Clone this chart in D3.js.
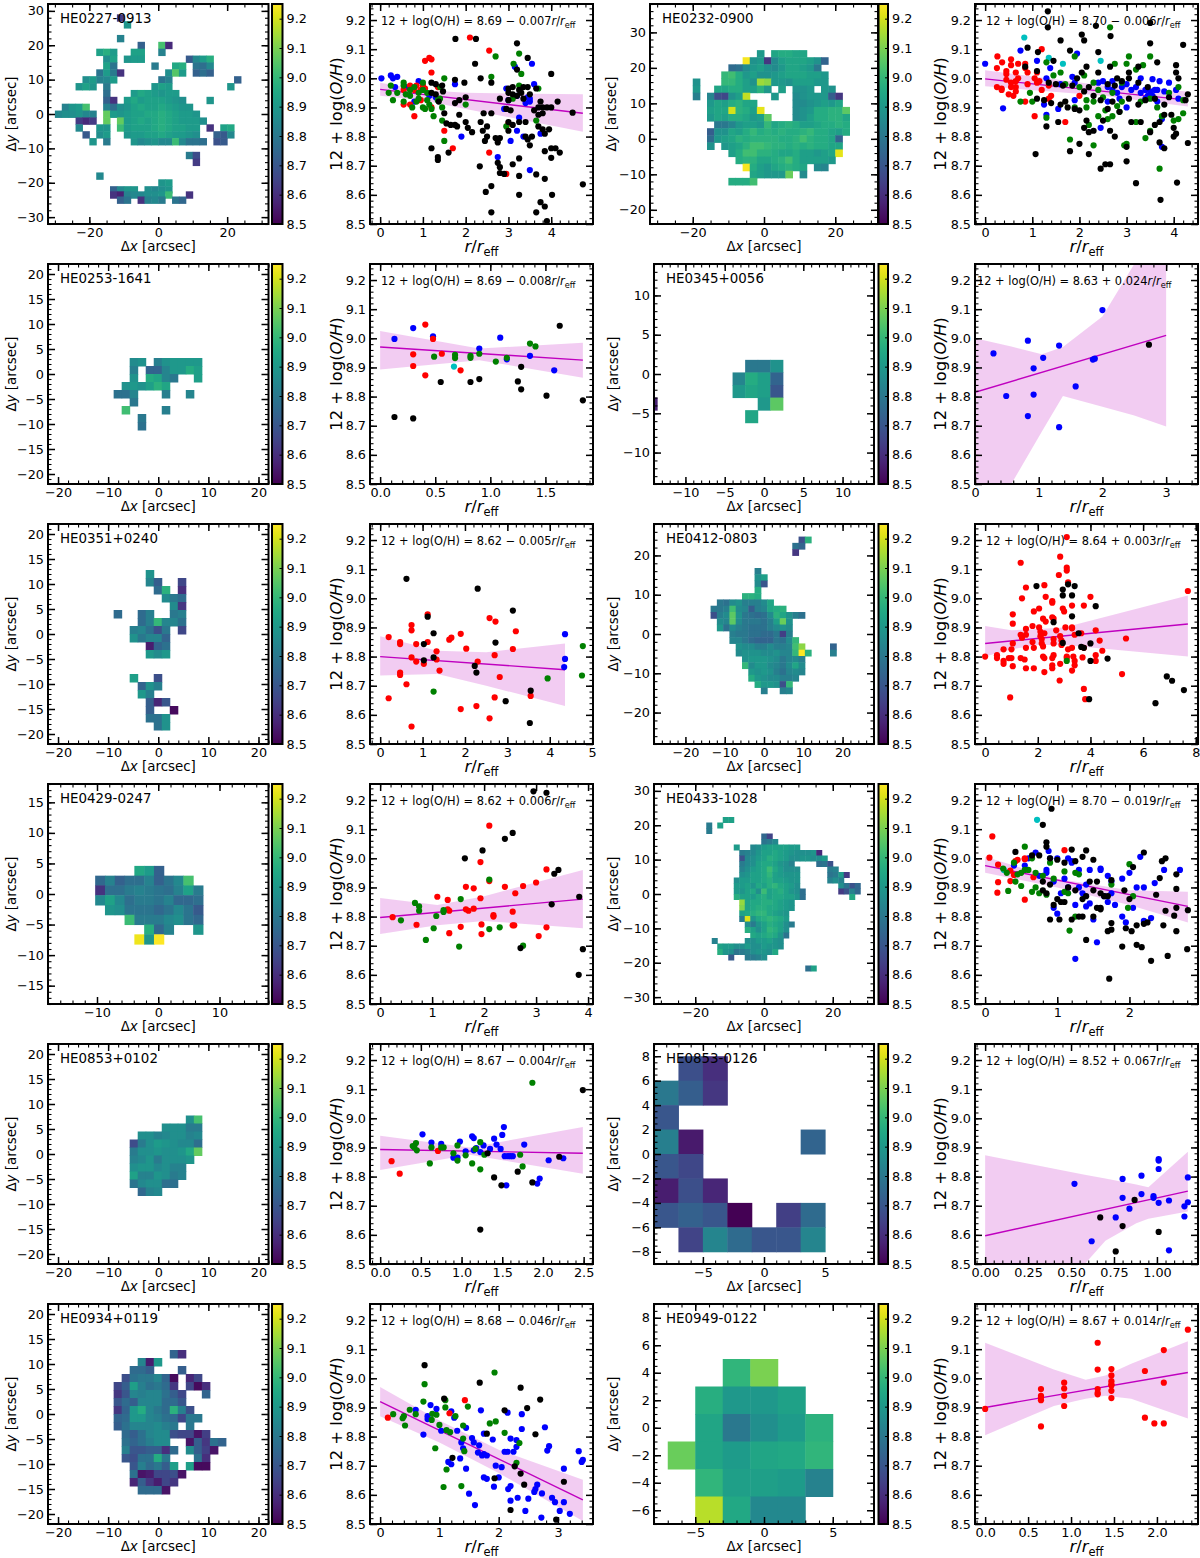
<!DOCTYPE html>
<html><head><meta charset="utf-8">
<script src="https://cdn.jsdelivr.net/npm/d3@7"></script>
<style>html,body{margin:0;padding:0;background:#fff}text{font-family:"DejaVu Sans",sans-serif;fill:#000}</style>
</head><body><svg id="c" width="1200" height="1558"></svg>
<script>
// ---- metallicity map cells: [y, x0, v, v, ...]; v = hundredths above 8 (0 = empty)
const cells0227=[[28,-11,62],[26,-9,88],[22,-11,82],[20,-5,72,0,0,102,58],[18,-17,92,96,90],[18,-7,92,92],[18,1,82],[16,-15,86,92],[16,-9,88,90,90],[16,9,70,84,90,96],[14,-15,92,78],[14,-1,80],[14,5,94,96],[14,11,78,76,84],[12,-17,78,90,80,60],[12,3,86,104,90],[12,11,72,76,72],[10,-21,86,90,82,84,90],[10,1,78,82],[10,23,72],[8,-23,88,92,88],[8,-15,80],[8,-1,88,92,90],[8,21,88],[6,-15,76],[6,-7,90,94,92,90,88,90,90],[4,-15,72,60],[4,-9,90,94,90,92,92,92,90,88,86],[4,15,88],[2,-27,82,88,90,102],[2,-15,82,76],[2,-11,86,88,92,94,92,92,94,92,90,88,88],[0,-29,84,86,86,88,84,82],[0,-15,106,90],[0,-11,88,90,92,92,94,94,96,94,92,90,90,88],[-2,-23,62,58,62],[-2,-15,106],[-2,-11,106,90,92,94,92,94,96,94,92,90,90,90,86],[-4,-23,84],[-4,-17,88,88],[-4,-11,100,90,92,92,92,94,96,94,92,92,90,90],[-4,15,60],[-4,19,92,94],[-6,-21,70],[-6,-17,86,90],[-6,-9,88,90,90,92,92,94,92,90,90,88,86],[-6,17,72,70,84],[-8,-19,88],[-8,-15,80],[-8,-7,88,84,86,88,84,84,100,84,78,78,76],[-8,17,68,70],[-12,9,80,66],[-14,11,62],[-18,-17,84],[-20,1,88,90],[-22,-13,72,84,88,88,0,86,84,86,88],[-23.5,-13,60,56,82,84,84,86,86,88,100,0,0,60],[-25,-11,72,78,0,60,82,84,80,0,78,74]];
const cells0232=[[24,-1,88],[24,3,92,94,94,92,92],[22,-5,122,86,88,60,84,90,92,92,92,90,86,72],[20,-9,74,76,84,88,90,86,84,88,92,92,90,88,78],[18,-11,98,100,94,88,90,86,86,88,90,92,92,92,90,90,88],[16,-19,86],[16,-11,98,98,94,90,86,112,110,88,88,86,90,90,90,88,88],[14,-19,88],[14,-13,92,92,94,94,90,90,96,88],[14,5,90],[14,9,86,86,88,0,88,86],[12,-19,80],[12,-15,82,66,64,86,90,116],[12,3,88],[12,9,84,86,88,88,88,70,60],[10,-15,88,92,90,94,96,92,92],[10,9,84,84,86,88,90,88,92],[8,-15,90,92,92,118,96,94,90,120],[8,9,84,86,88,94,94,96,96,104],[6,-15,88,92,90,94,94,92,88,90,104],[6,9,84,86,90,94,94,96,96,92],[4,-13,78,78,82,88,90,90,88,98,92],[4,5,94,96,94,90,90,92,94,94,96,94],[2,-15,70,86,86,92,90,94,98,94,96,94,96,94,94,96,98,94,94,92,90,94],[0,-15,74],[0,-13,88,90,92,96,94,96,96,96,96,94,94,96,100,96,94,94,92,72],[-2,-15,86],[-2,-11,88,90,92,96,100,100,98,96,96,94,96,94,96,94,94,92,92],[-4,-9,90,94,100,100,96,96,94,92,92,94,90,90,88,90,92,120],[-6,-7,94,96,96,92,92,94,96,100,94,90,90,90,90,88],[-8,-5,122,94,90,88,92,94,96,94,92],[-8,15,84,82],[-10,-3,92,90,88,88,88,106],[-10,11,84],[-12,-9,94,94,94,100]];
const cells0253=[[2.4,-4.9,84,86,0,80,86,88,88,88,88],[.8,-4.9,80,0,72,72,82,88,88,94,90],[-.8,-4.9,86,0,94,92,82,78,0,0,90],[-2.4,-6.5,86,88,86,90,96,92],[-4,-8.1,76,76,82,0,0,0,80,0,0,82],[-5.6,-4.9,78],[-7.2,-6.5,100],[-7.2,1.5,80],[-8.8,-3.3,78],[-10.4,-3.3,76]];
const cells0345=[[1,-1.6,78,78,86],[-.6,-3.2,82,94,90,72],[-2.2,-3.2,88,92,90,68],[-3.8,0,88,104],[-5.4,-1.6,92],[-3.8,-14.4,55]];
const cells0351=[[12,-1.7,88],[10.4,-1.7,84,72],[10.4,4.7,66],[8.8,-.1,76,98],[8.8,4.7,60],[7.2,1.5,86,80,76],[5.6,3.1,86,62],[4,-8.1,76],[4,-3.3,76,82],[4,3.1,80,82],[2.4,-3.3,76,82,100,84,84,78],[.8,-4.9,82,84,78,68,80],[.8,4.7,66],[-.8,-4.9,88,80,84,84,74],[-2.4,-1.7,56,74,78],[-4,-1.7,90,86,90],[-8.8,-4.9,92],[-8.8,-.1,68],[-10.4,-3.3,74,88,82],[-12,-3.3,90,82],[-13.6,-1.7,72,58,70],[-15.2,-1.7,72],[-15.2,3.1,52],[-16.8,-1.7,78,78,88],[-18.4,-.1,78,88]];
const cells0412=[[15,6,66,96],[14,5,76,72],[13,5,60],[10,-1,80],[9,-1,86,90],[8,-1,84,68],[7,-1,94],[6,-3,96,96,94],[5,-7,78,76,84,86,80,80,80,84,92],[4,-8,78,78,80,100,84,82,70,80,82,92,94,96],[3,-8,66,80,84,104,86,78,76,74,76,84,96,92,86,80,76],[2,-7,84,82,104,84,78,78,78,76,80,90,106,86],[1,-7,88,76,84,80,78,76,76,76,80,84,86,84],[0,-5,80,78,78,76,76,74,74,78,62,80],[-1,-5,82,82,78,74,72,72,72,78,76,84,98],[-2,-4,86,84,84,80,80,84,80,80,82,100,110],[-2,11,72],[-3,-4,84,86,86,86,84,84,86,82,82,98,124,96],[-3,11,80],[-4,-3,86,88,88,88,86,84,78,82,84,80],[-5,-3,98,84,88,88,84,82,78,84,92,84],[-6,-2,88,86,88,86,80,76,82,84,82],[-7,-2,94,88,86,84,84,80,80,82],[-8,-1,94,88,88,86,66,98],[-9,0,80],[-9,3,80,82]];
const cells0429=[[3.8,-3.1,94,90,72],[2.2,-9.5,74,82,72,76,76,82,72,78,84,102],[.6,-9.5,60,76,76,80,82,80,78,76,82,92,80],[-1,-9.5,84,92,84,76,80,80,78,82,74,74,76],[-2.6,-7.9,88,86,78,78,78,74,78,84,78,70],[-4.2,-4.7,100,80,80,80,84,86,78,74],[-5.8,-1.5,96,74,82],[-5.8,6.5,88],[-7.4,-3.1,122,88,124]];
const cells0433=[[13,-7,90,90],[12,-8,90],[12,-10,78],[11,-10,78],[10,0,72,62],[9,0,76,78,82],[8,-5,88],[8,-2,82,84,88,90,90,90,90,88,88],[7,-4,78,80,82,86,90,90,92,90,88,86,84,84,84,86,56],[6,-4,66,82,84,88,90,94,92,90,88,84,84,86,86,84,84,88],[5,-4,78,82,84,90,92,92,90,86,84,80],[5,10,74,76,66],[4,-4,80,84,88,90,92,98,92,88,84,84,84],[4,12,78,80],[3,-4,84,86,90,90,92,96,90,88,86,86,86],[3,12,76,78,88,60],[2,-5,84,88,88,90,90,92,94,90,90,88,86,86],[2,12,80,84,80],[1,-5,88,88,90,86,92,90,94,96,92,90,88,84],[1,14,84,76,66,72],[0,-5,88,86,90,92,84,98,90,92,94,90,86,84,74],[0,14,60,66,80,72],[-1,-5,94,90,90,88,92,94,90,92,92,90,90,86,74],[-1,16,92],[-2,-4,110,90,92,92,94,94,92,90,88,86],[-3,-4,108,90,92,94,94,92,92,90,88,86],[-4,-4,90,92,94,96,96,92,90,88,86],[-5,-4,78,118,86,92,94,96,94,92,88],[-6,-3,84,78,86,90,94,92,90,84,78],[-7,-3,94,90,84,90,96,94,90,84],[-8,-2,92,90,92,94,92,86,76],[-9,-9,80],[-9,-3,84,84,88,88,90,86,84],[-10,-8,90,88,88,84,84,88,84,84,88,86,86,84],[-11,-8,94,86,84,76,78,80,84,86,86,84,92],[-12,-6,68],[-12,-3,78,78,80,84],[-14,8,74,90]];
const cells0853p=[[6.9,6.3,84,100],[5.3,1.5,84,84,84,78,78],[3.7,-3.3,84,84,80,82,84,84,80,82],[2.1,-4.9,64,78,84,88,86,84,82,82,74],[.5,-4.9,78,84,84,86,84,84,86,92,104],[-1.1,-4.9,80,82,86,78,84,84,84,86],[-2.7,-4.9,84,86,86,82,84,80,80],[-4.3,-4.9,90,80,80,86,84,78,80],[-5.9,-4.9,76,82,84,84,74,74],[-7.5,-3.3,72,80,82]];
const cells0853m=[[7,-6,68,60],[5,-8,80,72,62],[3,-8,70],[1,-8,82,55],[1,4,74],[-1,-8,70,66],[-3,-8,56,68,58],[-5,-8,70,73,70,50],[-5,2,64,76],[-7,-6,65,84,76,70,70,84]];
const cells0934=[[12,3.1,74,60],[10.4,-3.3,84,56,90],[8.8,-4.9,76,76,72],[8.8,4.7,72],[7.2,-6.5,68,78,80,80,84,74,52],[7.2,6.3,58,66],[5.6,-8.1,66,72,92,82,78,80,76,62],[5.6,6.3,66,52,60],[4,-8.1,62,70,84,82,84,84,78,72,66],[4,9.5,74],[2.4,-8.1,70,76,72,84,84,84,76,76,70],[.8,-8.1,62,74,90,96,84,80,76,98,82,68],[-.8,-8.1,74,76,90,90,84,82,78,76,66,80,80],[-2.4,-8.1,72,78,84,84,84,86,82,80],[-2.4,6.3,80],[-4,-6.5,76,72,78,84,86,86,68,66,66,54,64],[-5.6,-6.5,78,74,78,82,86,86],[-5.6,6.3,54,72,62,78,74],[-7.2,-6.5,82,70,70,72,72,60,76],[-7.2,6.3,86,72,64,54],[-8.8,-6.5,70,68,78,78,96,80],[-8.8,7.9,78,60],[-10.4,-4.9,70,82,76,80,72,92],[-10.4,6.3,92,52,52],[-12,-4.9,78,54,56,66,66,68,54],[-13.6,-4.9,58,72,62,56,66,62],[-15.2,-3.3,76,76,76,54]];
const cells0949=[[4,-2,99,110],[2,-4,97,90,90,93],[0,-4,94,80,87,91,98],[-2,-6,108,94,91,94,95,99],[-4,-4,99,92,92,91,83],[-6,-4,117,95,85,85]];

// ---- abundance profile points, flat r,value pairs
const p0227_blue=[.03,9,.25,9.01,.3,9,.4,9.005,.35,8.97,.6,8.97,.8,8.92,.9,8.99,1.15,8.94,1.3,8.935,1.75,8.98,1.9,8.8,2.75,8.73,3.15,9.04,3.55,9.05,2.95,8.965,2.9,8.895,3.2,8.94,3.45,8.935,3.5,8.93,3.4,8.915,3.6,8.98,3.25,8.865,3.05,8.785,3,8.925,3.35,8.8,3.2,8.82,3.5,8.685,3.75,8.81,3.5,8.92];
const p0227_red=[2.1,9.14,2.55,9.095,1.15,9.07,1.2,9.065,1.05,9.06,1.2,9.02,.55,8.96,.7,8.975,.8,8.96,.85,8.975,.95,8.96,1,8.975,1.05,8.965,1,8.97,.7,8.91,.55,8.91,.8,8.87,.95,8.925,1.2,8.9,1.35,8.97,1.5,8.82,1.7,8.76,2.55,8.745,3,8.845,2.95,8.672];
const p0227_green=[.25,8.975,.2,8.95,.3,8.925,.4,8.95,.55,8.985,.55,8.975,.6,8.945,.7,8.96,.8,8.97,.9,8.95,1,8.985,1,8.96,1.1,8.95,.55,8.92,.75,8.9,.9,8.93,1,8.9,1.05,8.895,1.1,8.925,1.15,8.91,1.25,8.87,1.2,8.895,1.4,8.93,1.35,8.925,1.45,8.9,1.5,9,1.4,8.97,1.45,8.855,1.5,8.785,2.7,9.075,3.25,9.085,3.12,9.05,2.6,9.005,3.3,9.015,3.25,8.975,2.95,8.835,3.65,8.855,2,8.91,.7,8.94,.85,8.92,3.7,8.965,3.1,8.93];
const p0227_black=[1.76,9.135,2.24,9.135,3.2,9.12,3.45,9.07,2.22,9.05,3.2,9.03,4,9.015,2.35,9,1.2,8.985,1.3,8.98,1.45,8.975,1.75,8.995,1.97,8.985,2.6,8.985,3,8.965,3.1,8.97,3.25,8.96,3.35,8.97,3.45,8.97,3.65,8.965,3,8.95,3.1,8.945,3.2,8.94,3.3,8.95,3.5,8.945,1.2,8.95,1.3,8.945,1.47,8.955,1.75,8.915,1.85,8.925,2,8.935,2.8,8.93,3,8.925,3.35,8.93,1.37,8.92,1.5,8.88,1.85,8.875,2.42,8.88,2.6,8.88,2.95,8.895,3.05,8.89,3.6,8.89,3.7,8.9,3.8,8.9,3.9,8.9,4,8.9,4.15,8.92,3.75,8.92,3.8,8.88,3.7,8.875,4.5,8.882,1.55,8.845,1.65,8.84,1.75,8.84,1.8,8.835,2,8.85,2.35,8.85,2.05,8.83,2.15,8.815,2.4,8.82,2.5,8.835,2.5,8.8,2.45,8.785,2.7,8.795,2.75,8.78,2.8,8.795,3,8.85,3.1,8.84,3,8.82,3.25,8.85,3.4,8.8,3.4,8.85,3.45,8.79,3.55,8.8,3.7,8.835,3.8,8.825,3.95,8.825,3.85,8.81,3.5,8.77,1.35,8.73,1.35,8.72,1.2,8.76,1.6,8.745,3.85,8.75,4,8.76,4.1,8.76,4.2,8.745,4,8.727,2.33,8.698,2.75,8.71,2.8,8.695,2.8,8.675,2.9,8.672,3.1,8.705,3.25,8.725,3.25,8.665,3.65,8.67,3.85,8.655,3.25,8.6,4.02,8.6,2.6,8.63,2.47,8.61,2.6,8.54,3.65,8.54,3.75,8.575,3.85,8.56,3.9,8.51,4.74,8.636];
const p0232_cyan=[.83,9.14,1.35,9.07,1.65,9.05,2.45,9.06];
const p0232_blue=[0,9.05,.38,8.897,.75,9.095,1.1,9.06,1.38,9.035,1.25,8.91,1.3,9,1.55,8.895,1.9,8.925,1.95,9.085,1.85,9.005,1.9,8.985,2.45,8.83,2.4,8.985,2.5,8.99,2.6,8.97,2.7,8.96,2.8,8.95,2.9,8.97,3,8.98,3.1,8.96,3.2,8.97,3.3,8.95,3.4,8.96,3.5,8.955,3.55,8.94,3.6,8.96,3.7,8.99,3.55,8.997,3.65,8.96,3.8,8.955,3.9,8.985,3.65,8.92,3.3,9,3,8.9,2.7,8.99,2.6,8.92,3.75,8.86,3.75,8.765,4.05,8.96,4.1,8.93,3.45,8.94,3.4,8.93,2.85,8.93,1.3,8.875,1.6,8.98];
const p0232_red=[.26,9.075,.55,9.065,.36,9.055,.55,9.045,.7,9.05,.85,9.05,.25,9.035,.45,9.025,.45,9.015,.65,9.02,.85,9.035,.9,9.02,1.1,9.02,1.2,9.1,1.05,9,1.15,8.99,.45,8.995,.65,8.99,.9,8.98,.25,8.97,.35,8.965,.55,8.97,.65,8.97,.5,8.945,.6,8.94,.35,8.96,.85,8.92,1.1,8.985,1.05,8.87,1.2,8.96,1.35,8.975,1.4,8.94,1.35,8.93,1.7,8.85,2,8.94,.65,8.955,.55,8.985,.7,9];
const p0232_green=[1.3,9.055,1.6,9.02,1.9,9.075,2.1,9.01,2.65,9.175,2.75,9.05,3.05,9.075,3,9.05,3.2,9.03,3.35,9.045,3.5,9.075,2.9,8.985,1.45,9.01,1.7,8.98,1.3,8.865,1,8.92,.75,8.92,.95,8.95,1.8,8.79,2.2,8.84,2.15,8.925,2.3,8.77,2.4,8.87,2.3,8.92,2.5,8.935,2.6,8.86,2.7,8.87,2.8,8.905,2.85,8.885,3,8.775,2.3,8.985,2.4,8.96,2.7,8.95,2.9,8.92,2.95,8.77,3.2,8.85,3.3,8.92,3.5,8.93,3.4,8.795,3.5,8.82,3.7,8.69,3.75,8.87,4,8.855,4.1,8.86,3.9,8.95,4.1,8.97,4.2,8.925,4.2,8.88,2,8.97,2.15,8.9,1.9,8.9,2.55,8.89,3.65,8.9];
const p0232_black=[1.33,9.23,1.33,9.175,2.05,9.15,2.1,9.13,2.66,9.145,2.35,9.18,.9,9.105,1.6,9.13,1.8,9.095,1.12,9.09,2.4,9.09,1.45,9.06,3.5,9.12,4.2,9.115,3.5,9.19,.85,9.04,2.15,9.04,2.65,9.04,3.25,9.04,4.05,9.045,3.65,9.055,1.1,9.025,2.05,9.02,2.4,9.02,3.05,9.02,4.05,9.02,1.95,9,2.8,9,2.9,8.99,3.05,9,1.35,8.985,1.5,8.98,1.65,8.975,1.85,8.975,2.2,8.97,2.6,8.98,2.75,8.975,3.25,8.985,3.45,8.97,3.6,8.93,3.8,8.91,3.9,8.935,4.1,9,4.3,8.945,4.25,8.925,1.1,8.93,1.25,8.925,1.4,8.915,1.6,8.91,1.7,8.92,1.75,8.9,1.9,8.895,2,8.89,2.1,8.955,2.3,8.94,2.45,8.925,2.6,8.895,2.7,8.92,2.85,8.885,3.05,8.93,3.1,8.85,3.25,8.91,3.4,8.925,3.7,8.85,3.8,8.875,4,8.83,3.95,8.875,1.3,8.835,1.55,8.85,2.15,8.855,2.1,8.83,2.2,8.815,2.3,8.82,2.5,8.855,2.65,8.82,2.75,8.8,3,8.765,3.3,8.85,3.5,8.815,3.6,8.84,3.7,8.78,3.8,8.76,4,8.8,4.05,8.81,4.3,8.778,1.07,8.74,1.8,8.75,2,8.775,2.2,8.74,2.45,8.69,2.55,8.705,2.65,8.705,3,8.715,3.2,8.64,3.72,8.583,4.07,8.642];
const p0253_cyan=[.67,8.903];
const p0253_blue=[.13,8.998,.3,9.035,.48,9.007,.9,8.965,1.09,9.002,1.15,8.928,1.36,8.94,1.58,8.89];
const p0253_red=[.3,8.945,.3,8.905,.41,9.047,.41,8.873,.48,8.998,.56,8.947,.73,8.89];
const p0253_green=[.49,8.937,.68,8.943,.68,8.932,.82,8.94,.82,8.933,.9,8.947,1.05,8.92,1.15,8.933,1.36,8.982,1.41,8.972];
const p0253_black=[.13,8.73,.3,8.725,.55,8.85,.82,8.85,.9,8.86,1.25,8.852,1.28,8.902,1.28,8.825,1.51,8.803,1.63,9.043,1.84,8.787];
const p0345_blue=[.29,8.948,.49,8.802,.83,8.992,.83,8.733,.92,8.897,.92,8.807,1.07,8.933,1.32,8.975,1.32,8.695,1.58,8.835,1.85,8.927,1.88,8.93,2,9.097];
const p0345_black=[2.73,8.978];
const p0351_blue=[4.36,8.877,4.36,8.792,4.34,8.764];
const p0351_red=[.2,8.867,.47,8.85,.47,8.843,.74,8.908,.74,8.89,.85,8.843,.74,8.797,.85,8.783,1.03,8.775,1.12,8.945,1.12,8.85,1.33,8.818,1.33,8.79,1.4,8.752,1.63,8.858,1.68,8.865,1.9,8.878,2.03,8.827,2.3,8.783,2.58,8.932,2.72,8.92,2.7,8.805,2.82,8.73,3.13,8.826,3.2,8.887,.47,8.745,.47,8.737,.2,8.657,.62,8.705,.74,8.56,1.9,8.62,2.27,8.63,2.58,8.588,2.7,8.66,3.55,8.665];
const p0351_green=[1.26,8.68,3.95,8.725,4.78,8.836,4.76,8.735];
const p0351_black=[.62,9.067,1.12,8.937,1.26,8.88,1.03,8.843,1.03,8.787,1.26,8.797,2.23,8.768,2.27,8.745,2.3,9.033,2.72,8.848,3.13,8.958,2.96,8.647,3.53,8.572,3.55,8.683];
const p0412_red=[0,8.8,.45,8.805,.45,8.795,.7,8.825,.7,8.785,.7,8.775,1,8.795,.9,8.795,1,8.825,1.05,8.845,1.05,8.945,1.05,8.913,1.05,8.767,.95,8.66,1.35,9.122,1.4,9,1.35,8.875,1.4,8.865,1.35,8.795,1.5,8.79,1.55,9.037,1.55,8.895,1.55,8.875,1.55,8.83,1.55,8.76,1.85,8.955,1.8,8.905,1.8,8.85,1.85,8.83,1.85,8.76,2.05,8.965,2.05,8.9,2.1,8.885,2.1,8.87,2.15,8.86,2.15,8.845,2.2,8.835,2.3,9.005,2.25,9.045,2.2,8.93,2.3,8.92,2.2,8.8,2.25,8.795,2.25,8.747,2.55,8.99,2.55,8.985,2.55,8.935,2.6,8.93,2.6,8.86,2.6,8.845,2.6,8.805,2.55,8.795,2.55,8.76,2.55,8.77,2.8,9.08,2.85,9.143,3.1,9.21,3.1,9.105,3.1,9.095,2.85,8.87,2.9,8.855,2.9,8.84,2.85,8.775,3.1,8.8,3.1,8.795,3.15,8.825,2.95,8.965,3,8.955,3.05,8.9,3.15,9.055,3.3,8.9,3.3,8.897,3.35,8.8,3.3,8.83,3.3,8.752,2.83,8.718,3.4,8.875,3.4,8.785,3.4,8.77,3.75,8.975,3.75,8.83,3.65,8.88,3.7,8.797,3.75,8.689,3.8,8.654,4,9.005,4.2,8.89,4.2,8.805,4.2,8.785,4.35,8.855,4.45,8.82,5.2,8.74,5.35,8.862,7.7,9.025,3.3,8.975,2.25,8.88,2.7,8.89];
const p0412_green=[3.1,8.785];
const p0412_black=[1.95,9.042,2.95,9.03,2.95,9.01,3.15,9.048,3.4,9.042,3.3,9.01,3.3,8.938,4.2,8.973,2.6,8.918,3.55,8.88,2.95,8.847,3.65,8.833,3.75,8.83,4,8.845,4,8.785,4.65,8.793,3.95,8.654,6.47,8.64,6.9,8.732,7.1,8.717,7.55,8.685];
const p0429_red=[.24,8.798,.7,8.772,1.1,8.868,1.3,8.857,1.3,8.825,1.33,8.82,1.33,8.743,1.55,8.765,1.65,8.902,1.65,8.825,1.7,8.82,1.8,8.897,1.8,8.827,1.93,8.987,1.93,8.863,1.95,8.773,1.95,8.74,2.1,9.112,2.1,8.922,2.18,8.805,2.18,8.8,2.4,8.902,2.55,8.77,2.55,8.817,2.58,8.77,2.6,8.88,2.75,8.905,3,8.917,3.05,8.733,3.2,8.962,3.2,8.763];
const p0429_green=[.4,8.787,.67,8.847,.75,8.835,.75,8.82,.88,8.72,1.03,8.76,1.08,8.802,1.22,8.822,1.22,8.816,1.52,8.697,1.55,8.86,2.1,8.927,2.1,8.757,2.3,8.763,2.75,8.7];
const p0429_black=[1.63,9,1.97,9.027,2.4,9.067,2.55,9.087,2.95,9.23,3.2,9.225,3.35,8.947,3.43,8.96,3.3,8.842,3.83,8.868,2.7,8.692,3.9,8.688,3.82,8.6];
const p0433_cyan=[.72,9.132,.26,8.96];
const p0433_blue=[.4,8.975,.55,8.975,.6,9,.7,9.02,.88,9.025,.9,9,.75,8.94,.85,8.96,.95,8.92,1,9,1.05,8.88,1.1,8.93,1.15,9,1.2,8.99,1.15,8.9,1.2,8.985,1.3,8.96,1.3,8.9,1.35,8.88,1.4,8.91,1.45,8.96,1.5,8.79,1.25,8.84,1.4,8.835,1.45,8.845,1.6,8.965,1.6,8.96,1.65,8.87,1.75,8.92,1.75,8.88,1.7,8.85,1.8,8.84,1.9,8.93,1.9,8.8,1.95,8.78,2,8.95,2.05,8.83,2.2,8.9,2.15,9.005,2.1,8.9,2.2,8.785,2.3,8.795,2.35,8.915,2.48,8.96,2.7,8.96,1,8.81,1.55,8.712,1.25,8.655,.95,8.83,.85,8.95,1.7,8.94];
const p0433_red=[.06,9.002,.1,9.075,.18,8.978,.18,8.918,.17,8.882,.35,8.958,.35,8.922,.4,8.943,.42,8.99,.45,8.995,.55,9,.55,8.997,.55,8.858,.67,8.935,1.1,9.028];
const p0433_green=[.25,8.965,.3,8.95,.4,8.985,.42,8.92,.32,8.888,.45,8.945,.5,8.95,.5,8.905,.55,9.04,.55,8.96,.6,8.96,.65,9,.65,8.885,.7,8.95,.7,8.9,.75,8.88,.8,8.94,.85,8.875,.9,8.985,.95,8.93,1.1,8.885,1.15,8.88,1.1,8.955,1.25,8.95,1.3,8.945,1.25,8.8,1.17,8.752,1.75,8.91,1.98,8.83,2,8.98,2.05,8.87];
const p0433_black=[.92,9.17,.8,9.115,.65,9.01,.75,9.01,.85,9.055,.85,9.04,.42,9.022,.9,9,1,8.995,1.1,8.985,1.15,8.9,1.2,9.03,1.25,8.99,1.35,9.005,1.4,9.027,1.5,8.995,.8,8.92,.8,8.89,.85,8.88,.9,8.91,.95,8.84,1,8.86,1.05,8.85,1.1,8.85,1.25,8.89,1.35,8.86,1.4,8.87,1.45,8.92,1.5,8.89,1.55,8.92,1.6,8.88,1.65,8.87,1.7,8.87,1.75,8.925,1.6,8.83,1.55,8.83,1.6,8.825,.9,8.79,1.03,8.79,1.2,8.79,1.3,8.8,1.35,8.8,1.5,8.8,1.7,8.75,1.75,8.755,1.75,8.778,1.95,8.76,2.03,8.75,2.1,8.77,2.2,8.775,2.25,8.78,2,8.86,1.93,8.89,1.4,8.72,1.9,8.697,2.1,8.703,2.17,8.695,2.3,8.648,2.53,8.665,1.72,8.587,2.37,8.875,2.45,8.99,2.5,9,2.42,8.932,2.5,8.82,2.47,8.77,2.62,8.803,2.65,8.83,2.65,8.75,2.65,8.945,2.65,8.895,2.81,8.822,2.8,8.688,2.05,8.97,2.2,9.02];
const p0853p_blue=[.52,8.945,.63,8.917,.75,8.912,.9,8.865,.95,8.865,.98,8.92,1.05,8.887,1.13,8.938,1.15,8.932,1.18,8.898,1.15,8.89,1.23,8.884,1.27,8.907,1.35,8.895,1.4,8.93,1.43,8.91,1.48,8.895,1.5,8.943,1.52,8.97,1.53,8.87,1.57,8.87,1.6,8.87,1.63,8.87,1.77,8.91,1.55,8.77,1.93,8.776,1.96,8.793,2.07,8.856,2.25,8.863];
const p0853p_red=[.14,8.853,.24,8.81,.71,8.888];
const p0853p_green=[.4,8.905,.42,8.9,.44,8.915,.45,8.89,.61,8.845,.63,8.9,.75,8.9,.78,8.9,.9,8.88,.95,8.907,.95,8.855,1.05,8.873,1.13,8.845,1.17,8.895,1.23,8.918,1.23,8.825,1.28,8.875,1.72,8.875,1.75,8.835,1.87,9.122];
const p0853p_black=[1.23,8.618,1.32,8.88,1.4,8.797,1.49,8.77,1.69,8.817,1.87,8.78,2.2,8.868,2.49,9.097];
const p0853m_blue=[.52,8.775,.62,8.578,.76,8.66,.8,8.792,.8,8.727,.84,8.69,.91,8.803,.91,8.74,.98,8.733,.98,8.727,1.01,8.86,1.01,8.855,1.01,8.826,1.01,8.71,1.07,8.718,1.07,8.547,1.16,8.698,1.16,8.663,1.18,8.797,1.18,8.712];
const p0853m_black=[.67,8.66,.76,8.543,.8,8.63,.87,8.72,1.01,8.61];
const p0934_blue=[.6,8.892,.8,8.87,.8,8.86,.85,8.908,.95,8.895,.73,8.807,1.03,8.82,1.2,8.887,1.25,8.865,1.3,8.82,1.15,8.713,1.2,8.705,1.37,8.78,1.35,8.725,1.4,8.76,1.45,8.83,1.45,8.69,1.5,8.604,1.55,8.795,1.58,8.78,1.6,8.565,1.65,8.745,1.67,8.77,1.7,8.89,1.72,8.735,1.75,8.81,1.75,8.74,1.75,8.66,1.8,8.655,1.8,8.735,1.9,8.79,1.92,8.628,1.95,8.7,2,8.66,2.05,8.695,2.1,8.748,2.15,8.748,2.2,8.793,2.15,8.882,2.25,8.748,2.16,8.62,2.2,8.63,2.2,8.58,2.3,8.788,2.3,8.765,2.32,8.59,2.39,8.877,2.39,8.826,2.45,8.545,2.5,8.587,2.62,8.62,2.65,8.635,2.73,8.605,2.78,8.832,2.82,8.752,2.85,8.767,2.72,8.522,2.6,8.61,2.9,8.59,2.95,8.575,3.03,8.545,3.1,8.69,3.1,8.575,3.2,8.535,3.35,8.75,3.4,8.713,3.42,8.72];
const p0934_red=[.13,8.865,1.17,8.88,1.43,8.925];
const p0934_green=[.22,8.877,.38,8.863,.4,8.87,.42,8.838,.5,8.892,.6,8.877,.73,8.92,.75,8.98,.87,8.857,.88,8.878,.95,8.875,.93,8.76,1,8.84,1.1,8.9,1.1,8.925,1.12,8.822,1.18,8.815,1.12,8.687,1.07,8.627,1.27,8.87,1.37,8.63,1.4,8.838,1.4,8.793,1.42,8.75,1.48,8.903,1.85,8.845,1.93,9.02,1.95,8.852,2.1,8.813,2.3,8.71,2.35,8.778];
const p0934_black=[.75,9.045,1.08,8.93,1.22,8.727,1.68,8.985,1.8,8.81,1.93,8.657,2.1,8.89,2.2,8.548,2.27,8.698,2.37,8.968,2.37,8.673,2.43,8.635,2.48,8.898,2.62,8.808,2.7,8.927,2.97,8.515,3.1,8.645];
const p0949_red=[0,8.895,.65,8.963,.65,8.94,.65,8.935,.65,8.925,.65,8.835,.92,8.985,.92,8.965,.92,8.94,.92,8.905,1.31,9.122,1.31,9.03,1.31,8.963,1.31,8.95,1.31,8.945,1.47,9.032,1.47,9.01,1.47,8.99,1.47,8.98,1.47,8.975,1.47,8.957,1.47,8.932,1.86,9.025,1.86,8.865,1.97,8.845,2.08,9.097,2.08,8.985,2.08,8.845,2.36,9.167];

// ---- fit lines and confidence bands
const fitR=[[0,4.74],[0,4.3],[0,1.84],[0,3],[0,4.36],[0,7.7],[0,3.9],[0,2.81],[0,2.49],[0,1.18],[0,3.42],[0,2.36]];
const fitOH=[[8.962,8.88],[8.998,8.925],[8.97,8.925],[8.815,9.01],[8.8,8.755],[8.845,8.912],[8.797,8.86],[8.975,8.835],[8.893,8.88],[8.597,8.75],[8.92,8.583],[8.9,9.02]];
const bandR=[[0,1,2,4.74],[0,2.5,4.3],[0,.9,1.84],[0,.57,1.05,1.38,2,2.5,3],[0,1.35,2.5,4.36],[0,1,2,3,7.7],[0,1.1,2,3.9],[0,1,1.5,2,2.81],[0,1.1,2.49],[0,.58,.7,.88,.95,1.18],[0,1,2,3.42],[0,.8,1.17,1.4,1.7,2.36]];
const bandLo=[[8.94,8.925,8.895,8.817],[8.973,8.94,8.903],[8.893,8.925,8.865],[8.25,8.5,8.68,8.802,8.765,8.735,8.697],[8.735,8.74,8.7,8.63],[8.8,8.825,8.84,8.84,8.8],[8.74,8.77,8.785,8.76],[8.95,8.9,8.87,8.84,8.78],[8.823,8.875,8.81],[8.32,8.5,8.58,8.64,8.655,8.68],[8.87,8.78,8.675,8.51],[8.805,8.905,8.93,8.94,8.93,8.862]];
const bandHi=[[8.985,8.96,8.95,8.945],[9.028,8.975,8.955],[9.025,8.965,8.985],[9,8.972,8.945,8.97,9.075,9.255,9.6],[8.87,8.82,8.815,8.845],[8.905,8.89,8.895,8.9,9.01],[8.864,8.84,8.87,8.96],[9.005,8.93,8.91,8.89,8.885],[8.94,8.9,8.97],[8.873,8.806,8.793,8.773,8.763,8.885],[8.97,8.855,8.755,8.652],[9.122,9.03,8.995,9.01,9.05,9.127]];

// ---- labels and axis settings
const names=["HE0227-0913","HE0232-0900","HE0253-1641","HE0345+0056","HE0351+0240","HE0412-0803","HE0429-0247","HE0433-1028","HE0853+0102","HE0853-0126","HE0934+0119","HE0949-0122"];
const intercepts=["8.69","8.70","8.69","8.63","8.62","8.64","8.62","8.70","8.67","8.52","8.68","8.67"];
const slopes=["− 0.007","− 0.006","− 0.008","+ 0.024","− 0.005","+ 0.003","+ 0.006","− 0.019","− 0.004","+ 0.067","− 0.046","+ 0.014"];
const mapCells=[cells0227,cells0232,cells0253,cells0345,cells0351,cells0412,cells0429,cells0433,cells0853p,cells0853m,cells0934,cells0949];
const mapShift=[1,2,2,2,0,2,1,3,3,0,0,0];
const mapX=[[-32,32],[-32,32],[-22,22],[-14,14],[-22,22],[-28,28],[-18,18],[-32,32],[-22,22],[-9,9],[-22,22],[-8,8]];
const mapY=[[-32,32],[-24,38],[-22,22],[-14,14],[-22,22],[-28,28],[-18,18],[-32,32],[-22,22],[-9,9],[-22,22],[-7,9]];
const mapStep=[2,2,1.6,1.6,1.6,1.6,1.6,1.6,1.6,2,1.6,2];
const mapUnit=[1,1,1,1,1,1.6,1,1.6,1,1,1,1];
const mapYOff=[0,0,0,0,0,0,0,.8,0,0,0,0];
const mapXMaj=[20,20,10,5,10,10,10,20,10,5,10,5];
const mapXMin=[5,5,2,1,2,2,2,5,2,1,2,1];
const mapYMaj=[10,10,5,5,5,10,5,10,5,2,5,2];
const mapYMin=[2,2,1,1,1,2,1,2,1,.5,1,.5];
const profX=[[-.237,4.977],[-.215,4.515],[-.092,1.932],[0,3.5],[-.24,5.02],[-.385,8.085],[-.195,4.095],[-.14,2.95],[-.125,2.615],[-.059,1.239],[-.171,3.591],[-.118,2.478]];
const profMaj=[[0,1,2,3,4],[0,1,2,3,4],[0,.5,1,1.5],[0,1,2,3],[0,1,2,3,4,5],[0,2,4,6,8],[0,1,2,3,4],[0,1,2],[0,.5,1,1.5,2,2.5],[0,.25,.5,.75,1],[0,1,2,3],[0,.5,1,1.5,2]];
const profMinStep=[.2,.2,.1,.2,.2,.5,.2,.2,.1,.05,.2,.1];
const profFmt=["d","d",".1f","d","d","d","d","d",".1f",".2f","d",".1f"];
const pointSets=[
 {blue:p0227_blue,red:p0227_red,green:p0227_green,black:p0227_black},
 {cyan:p0232_cyan,blue:p0232_blue,red:p0232_red,green:p0232_green,black:p0232_black},
 {cyan:p0253_cyan,blue:p0253_blue,red:p0253_red,green:p0253_green,black:p0253_black},
 {blue:p0345_blue,black:p0345_black},
 {blue:p0351_blue,red:p0351_red,green:p0351_green,black:p0351_black},
 {red:p0412_red,green:p0412_green,black:p0412_black},
 {red:p0429_red,green:p0429_green,black:p0429_black},
 {cyan:p0433_cyan,blue:p0433_blue,red:p0433_red,green:p0433_green,black:p0433_black},
 {blue:p0853p_blue,red:p0853p_red,green:p0853p_green,black:p0853p_black},
 {blue:p0853m_blue,black:p0853m_black},
 {blue:p0934_blue,red:p0934_red,green:p0934_green,black:p0934_black},
 {red:p0949_red}];
const cbTicks=[8.5,8.6,8.7,8.8,8.9,9.0,9.1,9.2];
const profYTicks=[8.5,8.6,8.7,8.8,8.9,9.0,9.1,9.2];
const dotColor={cyan:"#00bfbf",blue:"#0000ff",red:"#ff0000",green:"#008000",black:"#000000"};
const dotOrder=["cyan","blue","red","green","black"];

// ---- layout
const rowTop=[4,264,524,784,1044,1304],H=220;
const svg=d3.select("#c");
const vir=d3.scaleSequential(d3.interpolateViridis).domain([8.5,9.25]);
const defs=svg.append("defs");
const grad=defs.append("linearGradient").attr("id","vir").attr("x1",0).attr("x2",0).attr("y1",1).attr("y2",0);
d3.range(0,1.001,.05).forEach(t=>grad.append("stop").attr("offset",t).attr("stop-color",d3.interpolateViridis(t)));
const TICK=12.8,LAB=13.4,BIG=16.4;
function seq(a,b,s){const o=[];for(let k=Math.ceil(a/s-1e-9);k<=Math.floor(b/s+1e-9);k++)o.push(+(k*s).toFixed(6));return o;}
function ticks(g,x,y,xMaj,xMin,yMaj,yMin,xFmt,yFmt,yr,xr){
  const sides=[[()=>d3.axisBottom(x),0,yr[0],xMaj,xMin,xFmt],[()=>d3.axisTop(x),0,yr[1],xMaj,xMin,null],[()=>d3.axisLeft(y),xr[0],0,yMaj,yMin,yFmt],[()=>d3.axisRight(y),xr[1],0,yMaj,yMin,null]];
  sides.forEach(([ax,tx,ty,maj,mnr,fmt])=>{
    const a1=ax().tickValues(mnr).tickSize(-3.5).tickFormat("");
    g.append("g").attr("transform",`translate(${tx},${ty})`).call(a1).call(s=>{s.select(".domain").remove();s.selectAll("line").attr("stroke","#000").attr("stroke-width",1.1)});
    const a2=ax().tickValues(maj).tickSize(-7).tickPadding(4).tickFormat(fmt?fmt:"");
    g.append("g").attr("transform",`translate(${tx},${ty})`).call(a2).call(s=>{s.select(".domain").remove();s.selectAll("line").attr("stroke","#000").attr("stroke-width",1.5);s.selectAll("text").attr("font-size",TICK).attr("font-family","DejaVu Sans").attr("fill","#000")});
  });
}
function frame(g,x0,y0,w,h){g.append("rect").attr("x",x0).attr("y",y0).attr("width",w).attr("height",h).attr("fill","none").attr("stroke","#000").attr("stroke-width",2);}
function clip(id,x0,y0,w,h){defs.append("clipPath").attr("id",id).append("rect").attr("x",x0).attr("y",y0).attr("width",w).attr("height",h);}
function label(g,px,py,rot,parts,size){
  const t=g.append("text").attr("font-size",size).attr("text-anchor","middle").attr("transform",`translate(${px},${py})${rot?" rotate(-90)":""}`);
  parts.forEach(([s,st,dy])=>{const sp=t.append("tspan").text(s);if(st==="i")sp.attr("font-style","italic");if(st==="sub")sp.attr("font-size",size*.7).attr("dy",dy);});
  return t;
}
function drawMap(i,col,row){
  const top=rowTop[row],first=i===1;
  const L=col===0?48:(first?650:654), W=col===0?220.5:(first?228:220);
  const x=d3.scaleLinear().domain(mapX[i]).range([L,L+W]);
  const y=d3.scaleLinear().domain(mapY[i]).range([top+H,top]);
  const g=svg.append("g");
  const id="m"+i;clip(id,L,top,W,H);
  const st=mapStep[i],u=mapUnit[i],off=mapYOff[i];
  const cg=g.append("g").attr("clip-path",`url(#${id})`);
  const w=x(st)-x(0),h=y(0)-y(st);
  const flat=[];
  mapCells[i].forEach(r=>{r.slice(2).forEach((v,j)=>{if(v)flat.push({cy:r[0]*u+off,cx:r[1]*u+j*st,v:8+(v+mapShift[i])/100});});});
  cg.selectAll("rect").data(flat).join("rect")
    .attr("x",d=>x(d.cx-st/2)).attr("y",d=>y(d.cy+st/2)).attr("width",w+.5).attr("height",h+.5)
    .attr("fill",d=>vir(d.v));
  ticks(g,x,y,seq(mapX[i][0],mapX[i][1],mapXMaj[i]),seq(mapX[i][0],mapX[i][1],mapXMin[i]),seq(mapY[i][0],mapY[i][1],mapYMaj[i]),seq(mapY[i][0],mapY[i][1],mapYMin[i]),d3.format("d"),d3.format("d"),[top+H,top],[L,L+W]);
  frame(g,L,top,W,H);
  g.append("text").attr("x",L+12).attr("y",top+19).attr("font-size",13.4).text(names[i]);
  label(g,L+W/2,top+H+27,false,[["Δ"],["x","i"],[" [arcsec]"]],LAB);
  label(g,col===0?16:(first?616:618),top+H/2,true,[["Δ"],["y","i"],[" [arcsec]"]],LAB);
  // colour bar
  const cL=col===0?272:878.5,cW=col===0?10.5:9.5;
  const cy=d3.scaleLinear().domain([8.5,9.25]).range([top+H,top]);
  g.append("rect").attr("x",cL).attr("y",top).attr("width",cW).attr("height",H).attr("fill","url(#vir)");
  g.append("g").attr("transform",`translate(${cL+cW},0)`).call(d3.axisRight(cy).tickValues(cbTicks).tickSize(-3).tickPadding(4).tickFormat(d3.format(".1f")))
    .call(s=>{s.select(".domain").remove();s.selectAll("line").attr("stroke","#000").attr("stroke-width",1);s.selectAll("text").attr("font-size",TICK).attr("font-family","DejaVu Sans").attr("fill","#000")});
  frame(g,cL,top,cW,H);
}
function drawProfile(i,col,row){
  const top=rowTop[row],L=col===1?370:975,W=223;
  const x=d3.scaleLinear().domain(profX[i]).range([L,L+W]);
  const y=d3.scaleLinear().domain([8.5,9.255]).range([top+H,top]);
  const g=svg.append("g");
  const id="p"+i;clip(id,L,top,W,H);
  const pg=g.append("g").attr("clip-path",`url(#${id})`);
  const band=bandR[i].map((r,j)=>({r,lo:bandLo[i][j],hi:bandHi[i][j]}));
  pg.append("path").datum(band).attr("fill","#bf00bf").attr("fill-opacity",.2).attr("d",d3.area().x(d=>x(d.r)).y0(d=>y(d.lo)).y1(d=>y(d.hi)));
  pg.append("path").datum(fitR[i].map((r,j)=>[r,fitOH[i][j]])).attr("fill","none").attr("stroke","#bf00bf").attr("stroke-width",1.4).attr("d",d3.line().x(d=>x(d[0])).y(d=>y(d[1])));
  dotOrder.forEach(c=>{
    const a=pointSets[i][c];if(!a)return;
    const pts=[];for(let k=0;k<a.length;k+=2)pts.push([a[k],a[k+1]]);
    pg.append("g").selectAll("circle").data(pts).join("circle").attr("cx",d=>x(d[0])).attr("cy",d=>y(d[1])).attr("r",3.1).attr("fill",dotColor[c]);
  });
  ticks(g,x,y,profMaj[i],seq(profX[i][0],profX[i][1],profMinStep[i]),profYTicks,seq(8.5,9.25,.02),d3.format(profFmt[i]),d3.format(".1f"),[top+H,top],[L,L+W]);
  frame(g,L,top,W,H);
  const fx=i===3?L+2:L+11;
  const t=g.append("text").attr("x",fx).attr("y",top+21).attr("font-size",11.4);
  t.append("tspan").text(`12 + log(O/H) = ${intercepts[i]} ${slopes[i]}`);
  t.append("tspan").attr("font-style","italic").text("r");
  t.append("tspan").text("/");
  t.append("tspan").attr("font-style","italic").text("r");
  t.append("tspan").attr("font-size",8.2).attr("dy",2.5).text("eff");
  label(g,L+W/2,top+H+28,false,[["r","i"],["/"],["r","i"],["eff","sub",3.5]],BIG);
  label(g,col===1?342:946,top+H/2,true,[["12 + log("],["O/H","i"],[")"]],BIG);
}
names.forEach((n,i)=>{
  const row=Math.floor(i/2),c=i%2;
  drawMap(i,c===0?0:2,row);
  drawProfile(i,c===0?1:3,row);
});
</script></body></html>
